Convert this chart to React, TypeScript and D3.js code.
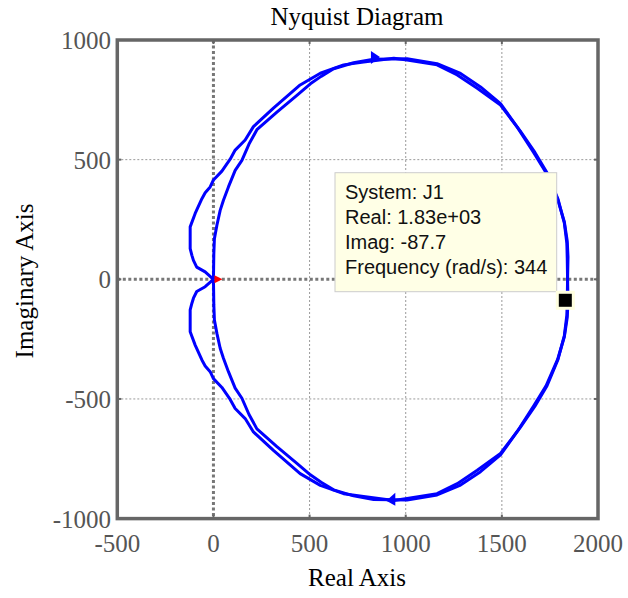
import React from "react";
import * as d3 from "d3";

// Positive-frequency branch of the Nyquist curve (real, imag)
const branchRe = [0, 1, 2, 5, 18, 35, 52, 78, 113, 148, 185, 226, 330, 434, 504, 560, 625, 729, 833, 1007, 1163, 1285, 1389, 1493, 1580, 1665, 1730, 1790, 1825, 1840, 1844, 1842, 1840, 1838, 1825, 1792, 1735, 1672, 1595, 1493, 1372, 1268, 1163, 1007, 938, 781, 677, 556, 451, 312, 208, 165, 113, 87, 44, 0, -17, -43, -60, -95, -121, -121, -112, -104, -87, -43, 0];
const branchIm = [0, 50, 107, 170, 226, 288, 330, 386, 455, 497, 565, 625, 699, 769, 817, 848, 880, 905, 920, 922, 901, 860, 804, 734, 636, 530, 445, 335, 240, 160, 93, 10, -88, -150, -235, -335, -445, -530, -620, -728, -798, -854, -896, -916, -924, -908, -896, -861, -812, -715, -638, -582, -540, -502, -452, -415, -386, -362, -337, -275, -219, -128, -100, -79, -51, -31, 0];

const xTicks = [-500, 0, 500, 1000, 1500, 2000];
const yTicks = [-1000, -500, 0, 500, 1000];

const arrowRe = [840, 925];
const arrowIm = [925, -921];
const arrowDir = [1, -1];

const tipLines = ["System: J1", "Real: 1.83e+03", "Imag: -87.7", "Frequency (rad/s): 344"];
const markerRe = 1830;
const markerIm = -87.7;

export default function App() {
  const W = 628, H = 598;
  const x = d3.scaleLinear().domain([-500, 2000]).range([117.3, 598]);
  const y = d3.scaleLinear().domain([-1000, 1000]).range([518.6, 40]);

  const pos = branchRe.map((r, i) => [r, branchIm[i]] as [number, number]);
  const neg = pos.map(([r, im]) => [r, -im] as [number, number]);
  const line = d3.line<[number, number]>().x(d => x(d[0])).y(d => y(d[1]));

  const serif = "'Liberation Serif', 'Times New Roman', serif";
  const sans = "'Liberation Sans', Arial, sans-serif";
  const x0 = x(-500), x1 = x(2000), y0 = y(-1000), y1 = y(1000);

  const mx = x(markerRe), my = y(markerIm);

  return (
    <svg width={W} height={H} style={{ position: "absolute", left: 0, top: 0, background: "#fff" }}>
      {/* grid */}
      {xTicks.filter(t => t !== -500 && t !== 2000).map(t => (
        <line key={"gx" + t} x1={x(t)} x2={x(t)} y1={y1} y2={y0}
          stroke={t === 0 ? "#777" : "#999"} strokeWidth={t === 0 ? 3 : 1}
          strokeDasharray={t === 0 ? "3 2.5" : "2 2"} />
      ))}
      {yTicks.filter(t => t !== -1000 && t !== 1000).map(t => (
        <line key={"gy" + t} x1={x0} x2={x1} y1={y(t)} y2={y(t)}
          stroke={t === 0 ? "#777" : "#999"} strokeWidth={t === 0 ? 3 : 1}
          strokeDasharray={t === 0 ? "3 2.5" : "2 2"} />
      ))}
      {/* ticks inside */}
      {xTicks.map(t => (
        <g key={"tx" + t}>
          <line x1={x(t)} x2={x(t)} y1={y0} y2={y0 - 4} stroke="#666" strokeWidth={2} />
          <line x1={x(t)} x2={x(t)} y1={y1} y2={y1 + 4} stroke="#666" strokeWidth={2} />
        </g>
      ))}
      {yTicks.map(t => (
        <g key={"ty" + t}>
          <line x1={x0} x2={x0 + 4} y1={y(t)} y2={y(t)} stroke="#666" strokeWidth={2} />
          <line x1={x1} x2={x1 - 4} y1={y(t)} y2={y(t)} stroke="#666" strokeWidth={2} />
        </g>
      ))}
      {/* curves */}
      <path d={line(neg) || ""} fill="none" stroke="#0000ff" strokeWidth={3} strokeLinejoin="round" />
      <path d={line(pos) || ""} fill="none" stroke="#0000ff" strokeWidth={3} strokeLinejoin="round" />
      {arrowRe.map((r, i) => {
        const cx = x(r), cy = y(arrowIm[i]), d = arrowDir[i];
        const pts = [[cx + 5 * d, cy - 1 * d], [cx - 4 * d, cy - 7], [cx - 4 * d, cy + 6]];
        return <polygon key={"ar" + i} points={pts.map(p => p.join(",")).join(" ")} fill="#0000ff" />;
      })}
      {/* critical point marker */}
      <polygon points={`${x(0) + 1},${y(0) - 4} ${x(0) + 9},${y(0)} ${x(0) + 1},${y(0) + 4}`} fill="#ff0000" />
      {/* frame */}
      <rect x={x0} y={y1} width={x1 - x0} height={y0 - y1} fill="none" stroke="#666" strokeWidth={3.5} />
      {/* data tip */}
      <rect x={335} y={172.7} width={221.7} height={119} fill="#ffffe6" stroke="#cccccc" strokeWidth={1} />
      {tipLines.map((s, i) => (
        <text key={"tl" + i} x={345} y={199 + i * 25} fontFamily={sans} fontSize={20} fill="#111">{s}</text>
      ))}
      <rect x={mx - 9.5} y={my - 9.5} width={19} height={19} fill="#ffffe0" />
      <rect x={mx - 6.5} y={my - 6.5} width={13} height={13} fill="#000" />
      {/* tick labels */}
      {xTicks.map(t => (
        <text key={"lx" + t} x={x(t)} y={552} textAnchor="middle" fontFamily={serif} fontSize={25} fill="#555">{t}</text>
      ))}
      {yTicks.map(t => (
        <text key={"ly" + t} x={111} y={y(t) + 9} textAnchor="end" fontFamily={serif} fontSize={25} fill="#555">{t}</text>
      ))}
      <text x={357} y={25} textAnchor="middle" fontFamily={serif} fontSize={25} fill="#000">Nyquist Diagram</text>
      <text x={357} y={586} textAnchor="middle" fontFamily={serif} fontSize={25} fill="#000">Real Axis</text>
      <text transform="translate(33,281) rotate(-90)" textAnchor="middle" fontFamily={serif} fontSize={25} fill="#000">Imaginary Axis</text>
    </svg>
  );
}
